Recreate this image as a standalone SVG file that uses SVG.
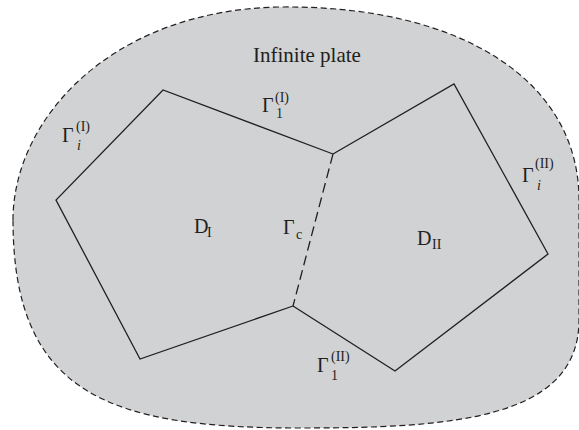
<svg xmlns="http://www.w3.org/2000/svg" width="579" height="430" viewBox="0 0 579 430">
<style>
.t{font-family:"Liberation Serif","Times New Roman",serif;fill:#231f20}
.m{font-size:20px}
.s{font-size:14px}
.it{font-style:italic}
.edge{fill:none;stroke:#231f20;stroke-width:1.3;stroke-linejoin:miter}
</style>
<rect width="579" height="430" fill="#ffffff"/>
<g id="plate">
<path d="M13,220 C13,120 110,10 280,7 C460,5 579,80 579,200 L579,320 C579,420 450,428 300,428 C110,428 13,395 13,220 Z" fill="#d1d2d4" stroke="#231f20" stroke-width="1.2" stroke-dasharray="6,3.5"/>
<text class="t" x="253" y="62" font-size="21">Infinite plate</text>
</g>
<g id="domain-I">
<polyline class="edge" points="333,154 163,90 56,200 140,359 293,306"/>
<text class="t m" x="194" y="233">D</text>
<text class="t s" x="207" y="237">I</text>
</g>
<g id="domain-II">
<polyline class="edge" points="333,154 454,84 548,254 395,371 293,306"/>
<text class="t m" x="417" y="245">D</text>
<text class="t s" x="432" y="249">II</text>
</g>
<g id="connectors">
<line x1="333" y1="154" x2="293" y2="306" stroke="#231f20" stroke-width="1.3" stroke-dasharray="10,5"/>
</g>
<g id="labels">
<g id="gamma-i-I">
<text class="t m" x="62" y="142">Γ</text>
<text class="t s it" x="77" y="150">i</text>
<text class="t s" x="76" y="131">(I)</text>
</g>
<g id="gamma-1-I">
<text class="t m" x="262" y="112">Γ</text>
<text class="t s" x="276" y="118">1</text>
<text class="t s" x="275" y="102">(I)</text>
</g>
<g id="gamma-c">
<text class="t m" x="283" y="234">Γ</text>
<text class="t s" x="296" y="239">c</text>
</g>
<g id="gamma-1-II">
<text class="t m" x="317" y="372">Γ</text>
<text class="t s" x="331" y="380">1</text>
<text class="t s" x="331" y="361">(II)</text>
</g>
<g id="gamma-i-II">
<text class="t m" x="522" y="182">Γ</text>
<text class="t s it" x="537" y="190">i</text>
<text class="t s" x="535" y="168">(II)</text>
</g>
</g>
</svg>
